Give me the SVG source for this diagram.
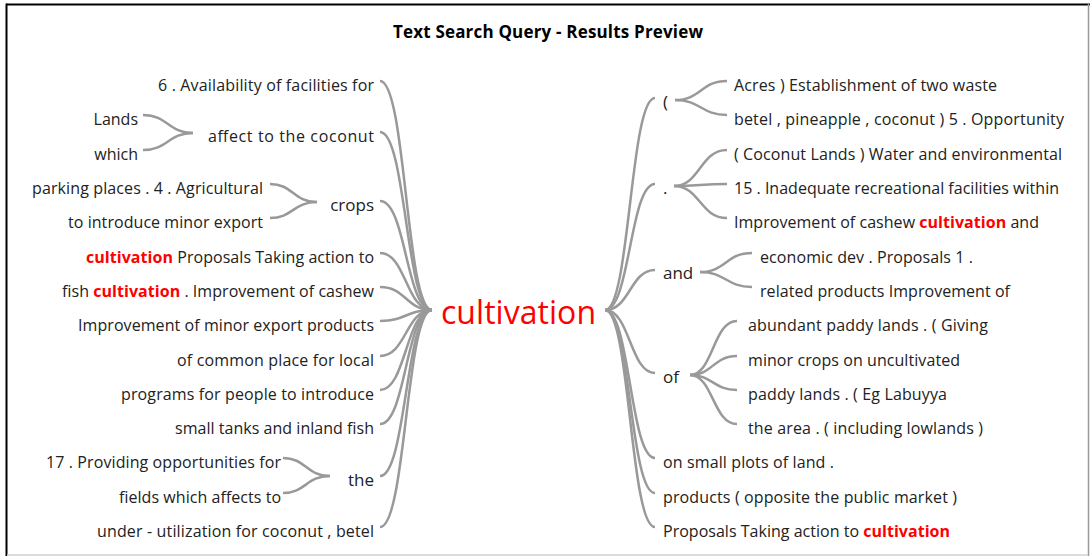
<svg xmlns="http://www.w3.org/2000/svg" width="1090" height="556" viewBox="0 0 1090 556">
<style>
text{font-family:"Open Sans","Noto Sans","Liberation Sans",sans-serif;font-size:16px;fill:#222}
.l{text-anchor:end}
.h{fill:#ff0000;font-weight:bold}
.big{font-size:17px}
.title{font-weight:bold;font-size:17px;text-anchor:middle;fill:#000}
.root{font-size:32px;fill:#ff0000;text-anchor:middle}
#connectors path{fill:none;stroke:#999;stroke-width:2.5}
</style>
<rect x="0" y="0" width="1090" height="556" fill="#fff"/>
<g id="frame">
<line x1="6.5" y1="4.5" x2="1090" y2="4.5" stroke="#000" stroke-width="2"/>
<line x1="6.5" y1="3.5" x2="6.5" y2="556" stroke="#000" stroke-width="2"/>
<line x1="1088.5" y1="4" x2="1088.5" y2="556" stroke="#999" stroke-width="1.5"/>
<line x1="7" y1="555" x2="1088" y2="555" stroke="#d0d0d0" stroke-width="1.5"/>
</g>
<text class="title" x="548" y="38" textLength="310" lengthAdjust="spacing">Text Search Query - Results Preview</text>
<g id="connectors">
<path d="M380,81 C406,81 406,310 432,310"/>
<path d="M380,132 C406,132 406,310 432,310"/>
<path d="M380,201 C406,201 406,310 432,310"/>
<path d="M380,253 C406,253 406,310 432,310"/>
<path d="M380,287 C406,287 406,310 432,310"/>
<path d="M380,321 C406,321 406,310 432,310"/>
<path d="M380,356 C406,356 406,310 432,310"/>
<path d="M380,390 C406,390 406,310 432,310"/>
<path d="M380,424 C406,424 406,310 432,310"/>
<path d="M380,476 C406,476 406,310 432,310"/>
<path d="M380,527 C406,527 406,310 432,310"/>
<path d="M143,115 C168,115 168,133 193,133"/>
<path d="M143,150 C168,150 168,133 193,133"/>
<path d="M270,184 C293,184 293,202 317,202"/>
<path d="M270,218 C293,218 293,202 317,202"/>
<path d="M283,458 C306,458 306,476 330,476"/>
<path d="M283,493 C306,493 306,476 330,476"/>
<path d="M605,310 C630,310 630,98 655,98"/>
<path d="M605,310 C630,310 630,184 655,184"/>
<path d="M605,310 C630,310 630,270 655,270"/>
<path d="M605,310 C630,310 630,373 655,373"/>
<path d="M605,310 C630,310 630,458 655,458"/>
<path d="M605,310 C630,310 630,493 655,493"/>
<path d="M605,310 C630,310 630,527 655,527"/>
<path d="M675,100 C701,100 701,81 727,81"/>
<path d="M675,100 C701,100 701,115 727,115"/>
<path d="M674,186 C700,186 700,150 727,150"/>
<path d="M674,186 C700,186 700,184 727,184"/>
<path d="M674,186 C700,186 700,218 727,218"/>
<path d="M700,272 C726,272 726,253 752,253"/>
<path d="M700,272 C726,272 726,287 752,287"/>
<path d="M690,375 C713,375 713,321 737,321"/>
<path d="M690,375 C713,375 713,356 737,356"/>
<path d="M690,375 C713,375 713,390 737,390"/>
<path d="M690,375 C713,375 713,424 737,424"/>
</g>
<g id="root"><text class="root" x="518.5" y="324" textLength="155" lengthAdjust="spacing">cultivation</text></g>
<g id="left">
<g id="n-l1"><text class="l" x="374" y="91" textLength="216" lengthAdjust="spacing">6 . Availability of facilities for</text></g>
<g id="n-l2"><text class="l" x="374" y="142" textLength="166" lengthAdjust="spacing">affect to the coconut</text></g>
<g id="n-l2a"><text class="l" x="138" y="125">Lands</text></g>
<g id="n-l2b"><text class="l" x="138" y="160">which</text></g>
<g id="n-l3"><text class="l big" x="374" y="211">crops</text></g>
<g id="n-l3a"><text class="l" x="263" y="194" textLength="231" lengthAdjust="spacing">parking places . 4 . Agricultural</text></g>
<g id="n-l3b"><text class="l" x="263" y="228" textLength="195" lengthAdjust="spacing">to introduce minor export</text></g>
<g id="n-l4"><text class="l" x="374" y="263" textLength="288" lengthAdjust="spacing"><tspan class="h">cultivation</tspan> Proposals Taking action to</text></g>
<g id="n-l5"><text class="l" x="374" y="297" textLength="312" lengthAdjust="spacing">fish <tspan class="h">cultivation</tspan> . Improvement of cashew</text></g>
<g id="n-l6"><text class="l" x="374" y="331" textLength="296" lengthAdjust="spacing">Improvement of minor export products</text></g>
<g id="n-l7"><text class="l" x="374" y="366" textLength="197" lengthAdjust="spacing">of common place for local</text></g>
<g id="n-l8"><text class="l" x="374" y="400" textLength="253" lengthAdjust="spacing">programs for people to introduce</text></g>
<g id="n-l9"><text class="l" x="374" y="434" textLength="199" lengthAdjust="spacing">small tanks and inland fish</text></g>
<g id="n-l10"><text class="l big" x="374" y="486">the</text></g>
<g id="n-l10a"><text class="l" x="281" y="468" textLength="235" lengthAdjust="spacing">17 . Providing opportunities for</text></g>
<g id="n-l10b"><text class="l" x="281" y="503" textLength="162" lengthAdjust="spacing">fields which affects to</text></g>
<g id="n-l11"><text class="l" x="374" y="537" textLength="277" lengthAdjust="spacing">under - utilization for coconut , betel</text></g>
</g>
<g id="right">
<g id="n-r1"><text class="big" x="663" y="108">(</text></g>
<g id="n-r1a"><text x="734" y="91" textLength="263" lengthAdjust="spacing">Acres ) Establishment of two waste</text></g>
<g id="n-r1b"><text x="734" y="125" textLength="330" lengthAdjust="spacing">betel , pineapple , coconut ) 5 . Opportunity</text></g>
<g id="n-r2"><text class="big" x="663" y="194">.</text></g>
<g id="n-r2a"><text x="734" y="160" textLength="328" lengthAdjust="spacing">( Coconut Lands ) Water and environmental</text></g>
<g id="n-r2b"><text x="734" y="194" textLength="325" lengthAdjust="spacing">15 . Inadequate recreational facilities within</text></g>
<g id="n-r2c"><text x="734" y="228" textLength="305" lengthAdjust="spacing">Improvement of cashew <tspan class="h">cultivation</tspan> and</text></g>
<g id="n-r3"><text class="big" x="663" y="279">and</text></g>
<g id="n-r3a"><text x="760" y="263" textLength="213" lengthAdjust="spacing">economic dev . Proposals 1 .</text></g>
<g id="n-r3b"><text x="760" y="297" textLength="250" lengthAdjust="spacing">related products Improvement of</text></g>
<g id="n-r4"><text class="big" x="663" y="383">of</text></g>
<g id="n-r4a"><text x="748" y="331" textLength="240" lengthAdjust="spacing">abundant paddy lands . ( Giving</text></g>
<g id="n-r4b"><text x="748" y="366" textLength="212" lengthAdjust="spacing">minor crops on uncultivated</text></g>
<g id="n-r4c"><text x="748" y="400" textLength="199" lengthAdjust="spacing">paddy lands . ( Eg Labuyya</text></g>
<g id="n-r4d"><text x="748" y="434" textLength="235" lengthAdjust="spacing">the area . ( including lowlands )</text></g>
<g id="n-r5"><text x="663" y="468" textLength="171" lengthAdjust="spacing">on small plots of land .</text></g>
<g id="n-r6"><text x="663" y="503" textLength="294" lengthAdjust="spacing">products ( opposite the public market )</text></g>
<g id="n-r7"><text x="663" y="537" textLength="287" lengthAdjust="spacing">Proposals Taking action to <tspan class="h">cultivation</tspan></text></g>
</g>
</svg>
